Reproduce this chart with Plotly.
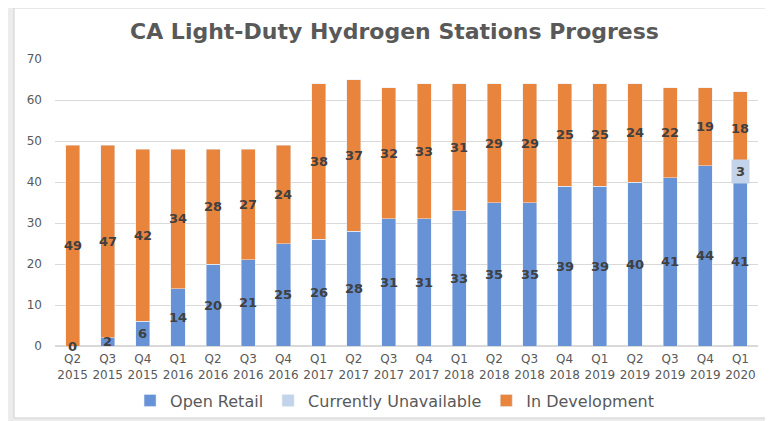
import plotly.graph_objects as go

quarters = ["Q2<br>2015", "Q3<br>2015", "Q4<br>2015", "Q1<br>2016", "Q2<br>2016", "Q3<br>2016",
            "Q4<br>2016", "Q1<br>2017", "Q2<br>2017", "Q3<br>2017", "Q4<br>2017", "Q1<br>2018",
            "Q2<br>2018", "Q3<br>2018", "Q4<br>2018", "Q1<br>2019", "Q2<br>2019", "Q3<br>2019",
            "Q4<br>2019", "Q1<br>2020"]
open_retail = [0, 2, 6, 14, 20, 21, 25, 26, 28, 31, 31, 33, 35, 35, 39, 39, 40, 41, 44, 41]
unavailable = [0, 0, 0, 0, 0, 0, 0, 0, 0, 0, 0, 0, 0, 0, 0, 0, 0, 0, 0, 3]
in_development = [49, 47, 42, 34, 28, 27, 24, 38, 37, 32, 33, 31, 29, 29, 25, 25, 24, 22, 19, 18]
y_ticks = [0, 10, 20, 30, 40, 50, 60, 70]

C_BLUE = "#6793d6"
C_LIGHT = "#c3d3ea"
C_ORANGE = "#e8843c"
TXT = "#595959"
FONT = "DejaVu Sans"

fig = go.Figure()
fig.add_bar(x=quarters, y=open_retail, name="Open Retail", marker_color=C_BLUE)
fig.add_bar(x=quarters, y=unavailable, name="Currently Unavailable", marker_color=C_LIGHT)
fig.add_bar(x=quarters, y=in_development, name="In Development", marker_color=C_ORANGE)

lab_font = dict(family=FONT, size=13, color="#404040", weight="bold")
ann = []
for i, q in enumerate(quarters):
    o, u, d = open_retail[i], unavailable[i], in_development[i]
    ann.append(dict(x=q, y=o / 2, text=str(o), showarrow=False, font=lab_font))
    if u > 0:
        ann.append(dict(x=q, y=o + u / 2, text=str(u), showarrow=False, bgcolor=C_LIGHT,
                        borderpad=4, font=lab_font))
    ann.append(dict(x=q, y=o + u + d / 2, text=str(d), showarrow=False, font=lab_font))

fig.update_layout(
    width=773, height=421,
    margin=dict(l=47, r=23, t=51, b=83, autoexpand=False),
    barmode="stack", bargap=0.6,
    paper_bgcolor="#ececec", plot_bgcolor="rgba(0,0,0,0)",
    title=dict(text="CA Light-Duty Hydrogen Stations Progress", x=0.5, xanchor="center",
               y=0.945, yanchor="middle",
               font=dict(family=FONT, size=22, color=TXT, weight="bold")),
    legend=dict(orientation="h", x=0.483, xanchor="center", y=-0.19, yanchor="middle",
                font=dict(family=FONT, size=16, color=TXT), traceorder="normal",
                bgcolor="rgba(0,0,0,0)"),
    font=dict(family=FONT, color=TXT),
    annotations=ann,
    shapes=[dict(type="rect", xref="paper", yref="paper", x0=-0.0583, x1=1.0114,
                 y0=-0.2509, y1=1.1777, fillcolor="white", line=dict(color="#d0d0d0", width=1),
                 layer="below")],
)
fig.update_xaxes(tickfont=dict(family=FONT, size=12, color=TXT), showgrid=False,
                 showline=False, ticks="", automargin=False, ticklabelstandoff=4)
fig.update_yaxes(range=[0, 70], tickvals=y_ticks, gridcolor="#d9d9d9", zeroline=True,
                 zerolinecolor="#d9d9d9", tickfont=dict(family=FONT, size=12, color=TXT),
                 ticks="", ticklabelstandoff=12, automargin=False)
fig.write_html("out.html")
